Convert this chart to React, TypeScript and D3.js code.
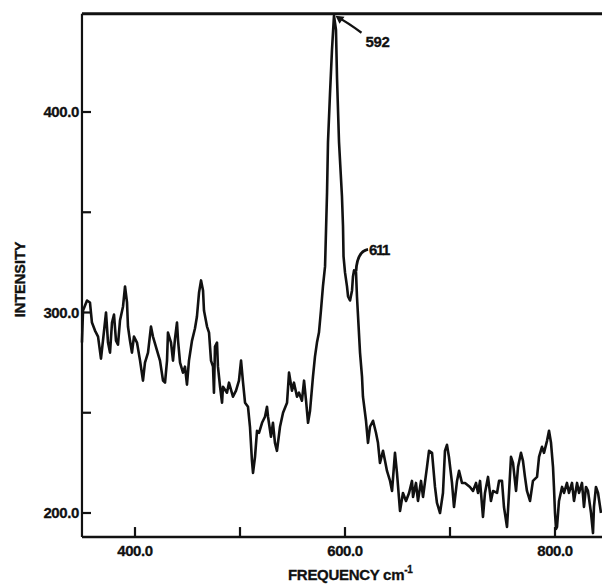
import React from "react";
import * as d3 from "d3";

// Raman-type spectrum: frequency (cm^-1) vs intensity
const frequency: number[] = [
  349.5, 350.5, 354.3, 357.1, 359.0, 361.9, 364.8, 367.6, 369.5, 372.4,
  374.3, 376.2, 378.1, 380.0, 381.9, 383.8, 385.7, 388.6, 390.5, 392.4,
  393.3, 395.2, 397.1, 399.0, 401.9, 404.8, 407.6, 409.5, 412.4, 415.2,
  417.1, 421.0, 423.8, 426.7, 428.6, 430.5, 431.4, 434.3, 436.2, 438.1,
  440.0, 441.0, 442.9, 445.7, 447.6, 449.5, 451.4, 454.3, 457.1, 459.0,
  461.0, 462.9, 464.8, 465.7, 468.6, 470.5,
  472.4, 474.3, 475.2, 476.2, 478.1, 479.0, 481.0, 482.9, 483.8, 487.6,
  489.5, 493.3, 496.2, 499.0, 501.0, 502.9, 504.8, 507.6, 509.5, 511.4,
  512.4, 514.3, 516.2, 518.1, 521.0, 523.8, 525.7, 526.7, 529.5, 531.4,
  533.3, 535.2, 538.1, 541.0, 544.8, 546.7, 549.5, 551.4, 554.3, 556.2,
  559.0, 561.0, 562.9, 564.8, 566.7, 569.5, 571.4, 573.3, 575.2, 577.1,
  579.0, 581.0, 582.9, 583.8, 585.7, 587.6, 589.5,
  591.4, 592.4, 594.3, 597.1, 598.1, 598.6, 600.0, 601.9, 602.9, 604.8,
  606.7, 607.6, 608.6, 610.5, 611.4, 614.3, 616.2, 617.1, 620.0, 621.9,
  623.8, 626.7, 629.5, 631.4, 633.3, 636.2, 638.1, 640.0, 642.9, 644.8,
  647.6, 649.5, 652.4, 655.2, 658.1, 661.0, 663.8, 664.8, 667.6, 669.5,
  672.4, 674.3, 678.1, 680.0, 682.9, 685.7, 687.6, 690.5, 693.3, 695.2,
  697.1, 699.0, 701.9, 703.8, 706.7, 708.6, 711.4, 714.3, 719.0, 721.9,
  724.8, 726.7, 728.6, 731.4, 733.3, 736.2, 739.0, 741.0, 744.8, 746.7,
  749.5, 751.4, 754.3, 756.2, 758.1, 760.0, 762.9, 764.8, 767.6, 769.5,
  771.4, 773.3, 776.2, 779.0, 782.9, 784.8, 787.6, 789.5, 792.4, 794.3,
  796.2, 798.1, 799.0, 800.0, 801.0, 801.9, 803.8, 806.7, 808.6, 811.4,
  813.3, 816.2, 818.1, 821.0, 822.9, 825.7, 827.6, 829.5, 831.4, 834.3,
  836.2, 837.1, 839.0, 841.0, 843.8,
];

const intensity: number[] = [
  285, 301, 306, 305, 295, 291, 288, 277, 286, 300,
  285, 280, 295, 299, 286, 284, 296, 303, 313, 305,
  293, 286, 280, 288, 285, 276, 266, 275, 280, 293,
  288, 281, 276, 266, 265, 276, 290, 285, 276, 287,
  295, 286, 275, 270, 273, 264, 276, 286, 292, 298,
  310, 316, 311, 301, 293, 290,
  276, 273, 260, 283, 285, 273, 263, 255, 263, 260,
  265, 258, 261, 266, 276, 265, 255, 253, 243, 226,
  220, 228, 241, 240, 245, 248, 253, 248, 238, 245,
  235, 231, 243, 250, 255, 270, 261, 265, 258, 260,
  256, 266, 256, 245, 251, 268, 278, 285, 290, 301,
  313, 323, 360, 385, 409, 431, 448,
  441, 417, 385, 358, 343, 328, 320, 313, 308, 306,
  311, 318, 321, 320, 308, 280, 268, 258, 246, 235,
  243, 246, 240, 235, 225, 231, 226, 221, 216, 211,
  230, 220, 201, 210, 206, 210, 216, 208, 215, 206,
  216, 208, 223, 231, 230, 213, 205, 200, 210, 231,
  234, 228, 215, 203, 216, 221, 215, 215, 213, 211,
  215, 210, 216, 198, 210, 218, 206, 211, 210, 216,
  216, 203, 193, 210, 228, 225, 211, 223, 230, 226,
  218, 211, 206, 216, 218, 228, 233, 230, 236, 241,
  235, 223, 213, 200, 192, 193, 206, 213, 210, 215,
  210, 215, 206, 215, 210, 215, 203, 213, 211, 200,
  190, 203, 213, 210, 200,
];

const xTicks: number[] = [400, 500, 600, 700, 800];
const xTickLabels: string[] = ["400.0", "", "600.0", "", "800.0"];
const yTicks: number[] = [200, 250, 300, 350, 400];
const yTickLabels: string[] = ["200.0", "", "300.0", "", "400.0"];
const xDomain: number[] = [349.5, 845];
const yDomain: number[] = [188, 449];
const peakMain: number[] = [590, 448];
const peakLabel = "592";
const peakSecond: number[] = [610.5, 320];
const peakSecondLabel = "611";

const W = 602;
const H = 585;
const FONT = "'Liberation Sans', Arial, sans-serif";

export default function App() {
  const x = d3.scaleLinear().domain([400, 800]).range([135, 555]);
  const y = d3.scaleLinear().domain([200, 400]).range([513, 112]);
  const left = x(xDomain[0]);
  const right = x(xDomain[1]);
  const top = y(yDomain[1]);
  const bottom = y(yDomain[0]);

  const pts: [number, number][] = frequency.map((f, i) => [f, intensity[i]]);
  const line = d3
    .line<[number, number]>()
    .x((d) => x(d[0]))
    .y((d) => y(d[1]))
    .curve(d3.curveLinear);

  const pmx = x(peakMain[0]);
  const pmy = y(peakMain[1]);
  const psx = x(peakSecond[0]);
  const psy = y(peakSecond[1]);

  return (
    <svg
      width={W}
      height={H}
      style={{ position: "absolute", left: 0, top: 0, background: "#fff" }}
      fontFamily={FONT}
    >
      <rect x={0} y={0} width={W} height={H} fill="#fff" />
      {/* frame */}
      <line x1={left} y1={top} x2={right} y2={top} stroke="#111" strokeWidth={2.8} />
      <line x1={left} y1={top} x2={left} y2={bottom} stroke="#111" strokeWidth={2.2} />
      <line x1={left} y1={bottom} x2={right} y2={bottom} stroke="#111" strokeWidth={2.4} />

      {/* y ticks */}
      {yTicks.map((t, i) => (
        <g key={"y" + t}>
          <line x1={left} x2={left + 9} y1={y(t)} y2={y(t)} stroke="#111" strokeWidth={2.2} />
          {yTickLabels[i] && (
            <text
              x={left - 3}
              y={y(t)}
              dy="0.36em"
              textAnchor="end"
              fontSize={15}
              fontWeight="bold"
              fill="#111"
              letterSpacing={-0.4}
              stroke="#111"
              strokeWidth={0.3}
            >
              {yTickLabels[i]}
            </text>
          )}
        </g>
      ))}

      {/* x ticks */}
      {xTicks.map((t, i) => (
        <g key={"x" + t}>
          <line x1={x(t)} x2={x(t)} y1={bottom} y2={bottom - 10} stroke="#111" strokeWidth={2.2} />
          {xTickLabels[i] && (
            <text
              x={x(t)}
              y={bottom + 19}
              textAnchor="middle"
              fontSize={15}
              fontWeight="bold"
              fill="#111"
              letterSpacing={-0.4}
              stroke="#111"
              strokeWidth={0.3}
            >
              {xTickLabels[i]}
            </text>
          )}
        </g>
      ))}

      {/* spectrum */}
      <path
        d={line(pts) || ""}
        fill="none"
        stroke="#111"
        strokeWidth={2.6}
        strokeLinejoin="round"
      />

      {/* annotation 592 */}
      <path
        d={`M${pmx + 27},${pmy + 17} Q${pmx + 12},${pmy + 6} ${pmx + 4},${pmy + 2}`}
        fill="none"
        stroke="#111"
        strokeWidth={2.2}
      />
      <path
        d={`M${pmx + 1},${pmy} L${pmx + 10},${pmy + 1} L${pmx + 5},${pmy + 8} Z`}
        fill="#111"
      />
      <text
        x={pmx + 31}
        y={pmy + 31}
        fontSize={15}
        fontWeight="bold"
        fill="#111"
        letterSpacing={-0.4}
        stroke="#111"
        strokeWidth={0.3}
      >
        {peakLabel}
      </text>

      {/* annotation 611 */}
      <path
        d={`M${psx + 12},${psy - 23} Q${psx + 1},${psy - 21} ${psx},${psy - 1}`}
        fill="none"
        stroke="#111"
        strokeWidth={2.8}
      />
      <text
        x={psx + 13}
        y={psy - 17}
        fontSize={15}
        fontWeight="bold"
        fill="#111"
        letterSpacing={-1.4}
        stroke="#111"
        strokeWidth={0.3}
      >
        {peakSecondLabel}
      </text>

      {/* axis titles */}
      <text
        transform={`translate(${25},${(top + bottom) / 2 + 4}) rotate(-90)`}
        textAnchor="middle"
        fontSize={14.5}
        fontWeight="bold"
        fill="#111"
        stroke="#111"
        strokeWidth={0.4}
      >
        INTENSITY
      </text>
      <text
        x={288}
        y={580}
        fontSize={15}
        fontWeight="bold"
        fill="#111"
        letterSpacing={-0.3}
        stroke="#111"
        strokeWidth={0.3}
      >
        FREQUENCY{"  "}
        <tspan>cm</tspan>
        <tspan dy={-7} fontSize={10}>-1</tspan>
      </text>
    </svg>
  );
}
